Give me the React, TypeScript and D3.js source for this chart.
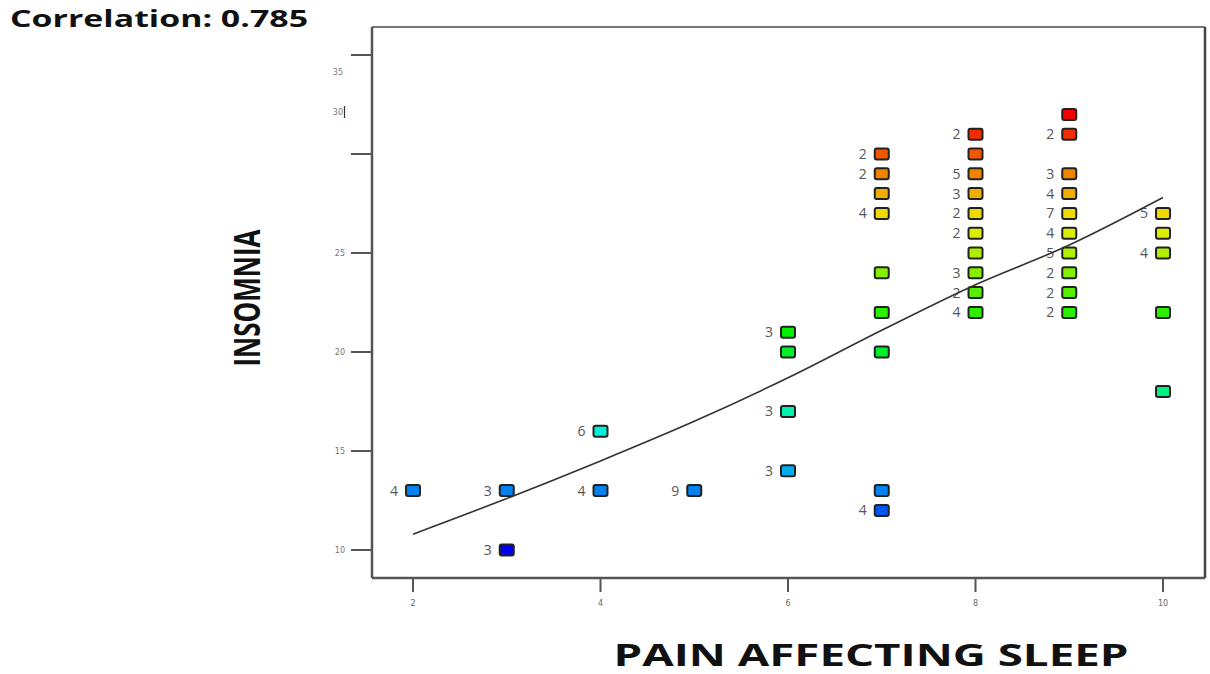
import * as d3 from "d3";

// x value, y value, count label ("" = no label)
const painX = [2, 3, 3, 4, 4, 5, 6, 6, 6, 6, 7, 7, 7, 7, 7, 7, 7, 7, 7, 8, 8, 8, 8, 8, 8, 8, 8, 8, 8, 9, 9, 9, 9, 9, 9, 9, 9, 9, 9, 10, 10, 10, 10, 10];
const insomniaY = [13, 13, 10, 16, 13, 13, 21, 20, 17, 14, 30, 29, 28, 27, 24, 22, 20, 13, 12, 31, 30, 29, 28, 27, 26, 25, 24, 23, 22, 32, 31, 29, 28, 27, 26, 25, 24, 23, 22, 27, 26, 25, 22, 18];
const counts = ["4", "3", "3", "6", "4", "9", "3", "", "3", "3", "2", "2", "", "4", "", "", "", "", "4", "2", "", "5", "3", "2", "2", "", "3", "2", "4", "", "2", "3", "4", "7", "4", "5", "2", "2", "2", "5", "", "4", "", ""];

// fit line
const fitX = [2, 3, 4, 5, 6, 7, 8, 9, 10];
const fitY = [10.8, 12.6, 14.5, 16.5, 18.7, 21.1, 23.4, 25.4, 27.8];

const xTicks = [2, 4, 6, 8, 10];
const yTicks = [10, 15, 20, 25, 30, 35];

const App = () => {
    const width = 1210;
    const height = 674;
    const left = 372;
    const top = 27;
    const right = 1205;
    const bottom = 578;

    const xScale = d3.scaleLinear().domain([2, 10]).range([413, 1163]);
    const yScale = d3.scaleLinear().domain([10, 35]).range([550, 55]);
    const hue = d3.scaleLinear().domain([10, 32]).range([240, 0]);

    const colorFor = (v) => d3.hsl(hue(v), 1, 0.47).formatHex();

    const lineGen = d3
        .line()
        .x((d) => xScale(d[0]))
        .y((d) => yScale(d[1]))
        .curve(d3.curveMonotoneX);

    const fitPath = lineGen(fitX.map((x, i) => [x, fitY[i]]));

    const boxW = 14;
    const boxH = 11;

    return (
        <svg
            width={width}
            height={height}
            style={{ position: "absolute", left: 0, top: 0, background: "#fff" }}
        >
            <text
                x={10}
                y={27}
                fontFamily="Open Sans"
                fontWeight="bold"
                fontSize={24}
                textLength={298}
                lengthAdjust="spacingAndGlyphs"
                fill="#111"
            >
                Correlation: 0.785
            </text>

            {/* frame */}
            <line x1={left} y1={top} x2={right} y2={top} stroke="#777" strokeWidth={2} />
            <line x1={right} y1={top} x2={right} y2={bottom} stroke="#444" strokeWidth={2.5} />
            <line x1={left} y1={top} x2={left} y2={bottom} stroke="#555" strokeWidth={2.5} />
            <line x1={left} y1={bottom} x2={right} y2={bottom} stroke="#555" strokeWidth={2.5} />

            {/* y axis */}
            {yTicks.map((t) => (
                <line
                    key={`yt-${t}`}
                    x1={left - 21}
                    x2={left}
                    y1={yScale(t)}
                    y2={yScale(t)}
                    stroke="#555"
                    strokeWidth={2}
                />
            ))}
            {yTicks.map((t) => {
                // the 30 and 35 labels sit off their ticks in the original
                const y = t === 35 ? 72 : t === 30 ? 112 : yScale(t);
                return (
                    <text
                        key={`yl-${t}`}
                        x={t >= 30 ? 343 : 345}
                        y={y}
                        dy="0.35em"
                        textAnchor="end"
                        fontFamily="DejaVu Sans"
                        fontSize={8}
                        fill="#777"
                    >
                        {t}
                    </text>
                );
            })}
            <line x1={344.5} x2={344.5} y1={106} y2={118} stroke="#333" strokeWidth={1.2} />

            {/* x axis */}
            {xTicks.map((t) => (
                <g key={`xt-${t}`}>
                    <line
                        x1={xScale(t)}
                        x2={xScale(t)}
                        y1={bottom}
                        y2={bottom + 14}
                        stroke="#555"
                        strokeWidth={2}
                    />
                    <text
                        x={xScale(t)}
                        y={606}
                        textAnchor="middle"
                        fontFamily="DejaVu Sans"
                        fontSize={8}
                        fill="#666"
                    >
                        {t}
                    </text>
                </g>
            ))}

            {/* points */}
            {painX.map((x, i) => {
                const cx = xScale(x);
                const cy = yScale(insomniaY[i]);
                return (
                    <g key={`pt-${i}`}>
                        <rect
                            x={cx - boxW / 2}
                            y={cy - boxH / 2}
                            width={boxW}
                            height={boxH}
                            rx={2}
                            fill={colorFor(insomniaY[i])}
                            stroke="#222"
                            strokeWidth={2}
                        />
                        {counts[i] && (
                            <text
                                x={cx - 15}
                                y={cy}
                                dy="0.36em"
                                textAnchor="end"
                                fontFamily="Open Sans"
                                fontSize={14}
                                fill="#555"
                            >
                                {counts[i]}
                            </text>
                        )}
                    </g>
                );
            })}

            <path d={fitPath} fill="none" stroke="#333" strokeWidth={1.6} />

            {/* axis titles */}
            <text
                x={871}
                y={666}
                textAnchor="middle"
                fontFamily="Open Sans"
                fontWeight="bold"
                fontSize={31}
                textLength={515}
                lengthAdjust="spacingAndGlyphs"
                fill="#111"
            >
                PAIN AFFECTING SLEEP
            </text>
            <text
                transform="translate(260,298) rotate(-90)"
                textAnchor="middle"
                fontFamily="Open Sans"
                fontWeight="bold"
                fontSize={35}
                textLength={137}
                lengthAdjust="spacingAndGlyphs"
                fill="#111"
            >
                INSOMNIA
            </text>
        </svg>
    );
};

export default App;
